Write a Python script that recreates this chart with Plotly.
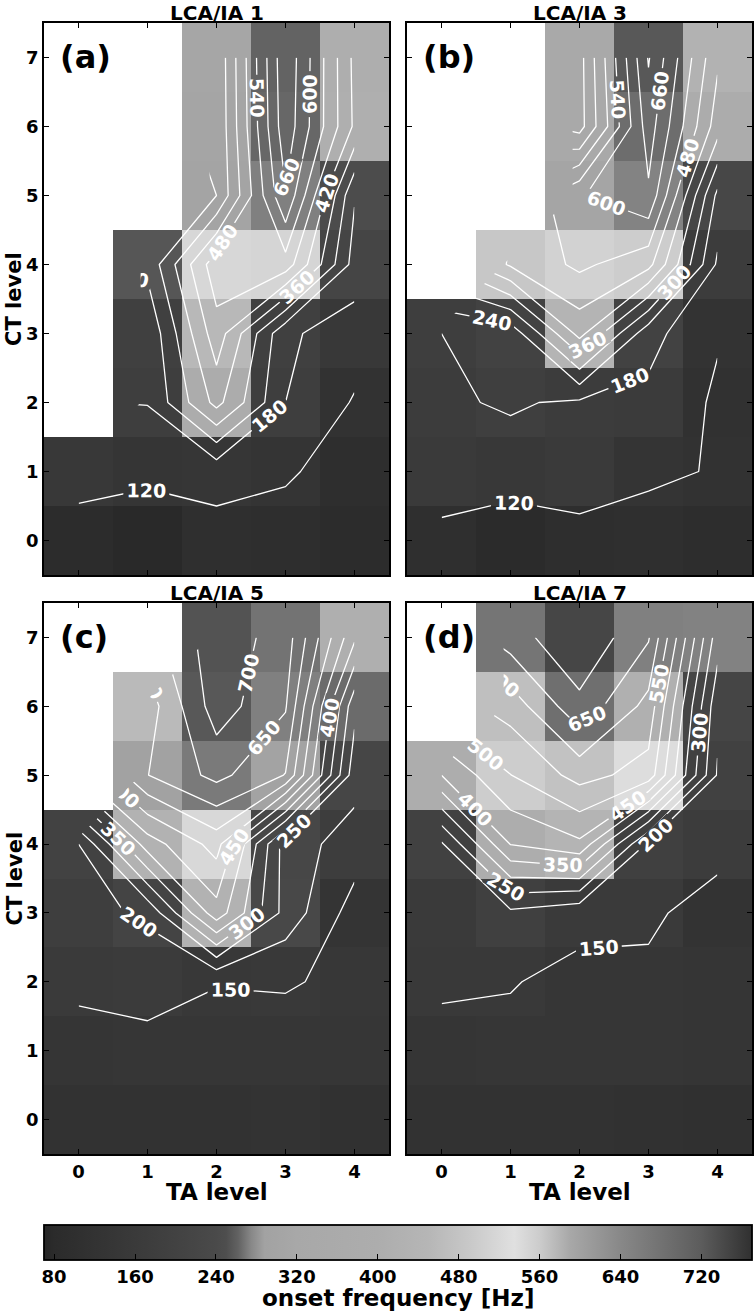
import plotly.graph_objects as go

nan = float("nan")

# ---------------- data ----------------
ta_levels = [0, 1, 2, 3, 4]
ct_levels = [0, 1, 2, 3, 4, 5, 6, 7]
panel_titles = ["LCA/IA 1", "LCA/IA 3", "LCA/IA 5", "LCA/IA 7"]
panel_letters = ["(a)", "(b)", "(c)", "(d)"]

# onset frequency [Hz]; rows = CT level 0..7, columns = TA level 0..4
onset_lca1 = [
    [85, 75, 101, 95, 85],
    [150, 135, 139, 127, 95],
    [nan, 182, 379, 180, 115],
    [nan, 190, 455, 190, 150],
    [nan, 255, 519, 515, 215],
    [nan, nan, 300, 655, 245],
    [nan, nan, 305, 700, 410],
    [nan, nan, 308, 708, 405],
]
onset_lca3 = [
    [100, 80, 95, 100, 90],
    [160, 150, 160, 128, 117],
    [171, 187, 170, 165, 111],
    [180, 200, 440, 200, 125],
    [nan, 488, 553, 500, 170],
    [nan, nan, 595, 650, 225],
    [nan, nan, 335, 690, 390],
    [nan, nan, 337, 725, 430],
]
onset_lca5 = [
    [115, 118, 118, 120, 112],
    [135, 140, 140, 140, 138],
    [158, 163, 151, 152, 145],
    [180, 210, 430, 231, 128],
    [200, 425, 520, 225, 177],
    [nan, 599, 665, 598, 220],
    [nan, 575, 725, 655, 265],
    [nan, nan, 730, 678, 410],
]
onset_lca7 = [
    [115, 115, 115, 110, 108],
    [135, 140, 138, 137, 133],
    [157, 152, 140, 138, 135],
    [160, 189, 161, 160, 125],
    [194, 402, 440, 190, 170],
    [400, 499, 568, 530, 195],
    [nan, 571, 686, 583, 215],
    [nan, 675, 745, 655, 273],
]
panel_data = [onset_lca1, onset_lca3, onset_lca5, onset_lca7]

# contour levels (start, end, step) per panel
contour_levels = [(120, 720, 60), (120, 720, 60), (150, 700, 50), (150, 700, 50)]

colorbar_ticks = [80, 160, 240, 320, 400, 480, 560, 640, 720]
colorbar_label = "onset frequency [Hz]"
z_min, z_max = 70, 770

# custom grey colormap: value -> grey level
cmap_values = [70, 80, 160, 200, 240, 250, 262, 275, 288, 320, 400, 450, 490, 535, 560, 590, 640, 680, 720, 770]
cmap_greys = [0x26, 0x2b, 0x3a, 0x42, 0x4a, 0x4e, 0x62, 0x88, 0xa2, 0xa8, 0xad, 0xb6, 0xc8, 0xe0, 0xcc, 0xa8, 0x88, 0x72, 0x5c, 0x30]

# ---------------- figure ----------------
W, H = 756, 1313
FONT = "DejaVu Sans"

colorscale = [
    [(v - z_min) / (z_max - z_min), "rgb({0},{0},{0})".format(g)]
    for v, g in zip(cmap_values, cmap_greys)
]

col_px = [(44, 389), (407, 752)]
row_px = [(23, 575), (603, 1154)]

fig = go.Figure()
layout_axes = {}
annotations = []

for i, z in enumerate(panel_data):
    r, c = divmod(i, 2)
    n = i + 1
    xa = "x" if n == 1 else "x%d" % n
    ya = "y" if n == 1 else "y%d" % n
    fig.add_trace(go.Heatmap(
        x=ta_levels, y=ct_levels, z=z, coloraxis="coloraxis",
        xaxis=xa, yaxis=ya, hoverongaps=False,
    ))
    s, e, st = contour_levels[i]
    fig.add_trace(go.Contour(
        x=ta_levels, y=ct_levels, z=z, xaxis=xa, yaxis=ya,
        showscale=False, connectgaps=False,
        contours=dict(coloring="none", start=s, end=e, size=st, showlabels=True,
                      labelfont=dict(family=FONT, size=19, color="white", weight="bold")),
        line=dict(color="white", width=1.3, smoothing=0),
        hoverinfo="skip",
    ))
    x0, x1 = col_px[c]
    y0, y1 = row_px[r]
    axcommon = dict(showline=True, linecolor="black", linewidth=1.8, mirror="ticks",
                    ticks="inside", ticklen=5, tickwidth=1.2, tickcolor="black",
                    showgrid=False, zeroline=False, automargin=False,
                    tickfont=dict(family=FONT, size=18, color="black", weight="bold"))
    layout_axes["xaxis" if n == 1 else "xaxis%d" % n] = dict(
        domain=[x0 / W, x1 / W], range=[-0.5, 4.5], tickvals=ta_levels,
        showticklabels=(r == 1), anchor=ya, **axcommon)
    layout_axes["yaxis" if n == 1 else "yaxis%d" % n] = dict(
        domain=[1 - y1 / H, 1 - y0 / H], range=[-0.5, 7.5], tickvals=ct_levels,
        showticklabels=(c == 0), anchor=xa, **axcommon)

    # panel title
    annotations.append(dict(
        text=panel_titles[i], xref="paper", yref="paper",
        x=(x0 + x1) / 2 / W, y=1 - (y0 - 10) / H, xanchor="center", yanchor="middle",
        showarrow=False, font=dict(family=FONT, size=20, color="black", weight="bold")))
    # panel letter
    annotations.append(dict(
        text=panel_letters[i], xref="paper", yref="paper",
        x=(x0 + 14) / W, y=1 - (y0 + 34) / H, xanchor="left", yanchor="middle",
        showarrow=False, font=dict(family=FONT, size=32, color="black", weight="bold")))
    if c == 0:
        annotations.append(dict(
            text="CT level", xref="paper", yref="paper",
            x=14 / W, y=1 - (y0 + y1) / 2 / H, xanchor="center", yanchor="middle",
            textangle=-90, showarrow=False,
            font=dict(family=FONT, size=21, color="black", weight="bold")))
    if r == 1:
        annotations.append(dict(
            text="TA level", xref="paper", yref="paper",
            x=(x0 + x1) / 2 / W, y=1 - 1192 / H, xanchor="center", yanchor="middle",
            showarrow=False, font=dict(family=FONT, size=23, color="black", weight="bold")))

annotations.append(dict(
    text=colorbar_label, xref="paper", yref="paper",
    x=398 / W, y=1 - 1298 / H, xanchor="center", yanchor="middle",
    showarrow=False, font=dict(family=FONT, size=23, color="black", weight="bold")))

fig.update_layout(
    template="none",
    width=W, height=H,
    margin=dict(l=0, r=0, t=0, b=0, autoexpand=False),
    paper_bgcolor="white", plot_bgcolor="white",
    showlegend=False,
    annotations=annotations,
    coloraxis=dict(
        colorscale=colorscale, cmin=z_min, cmax=z_max,
        colorbar=dict(
            orientation="h", x=398 / W, xanchor="center", len=708 / W, lenmode="fraction",
            y=1 - 1225 / H, yanchor="top", thickness=35, thicknessmode="pixels",
            xpad=0, ypad=0, outlinewidth=1.8, outlinecolor="black",
            tickvals=colorbar_ticks, ticks="inside", ticklen=6, tickcolor="black",
            tickfont=dict(family=FONT, size=18, color="black", weight="bold"),
        ),
    ),
    **layout_axes,
)

fig.write_html(
    "out.html",
    config={"displayModeBar": False},
    post_script="document.body.style.margin='0px';document.body.style.overflow='hidden';",
)
